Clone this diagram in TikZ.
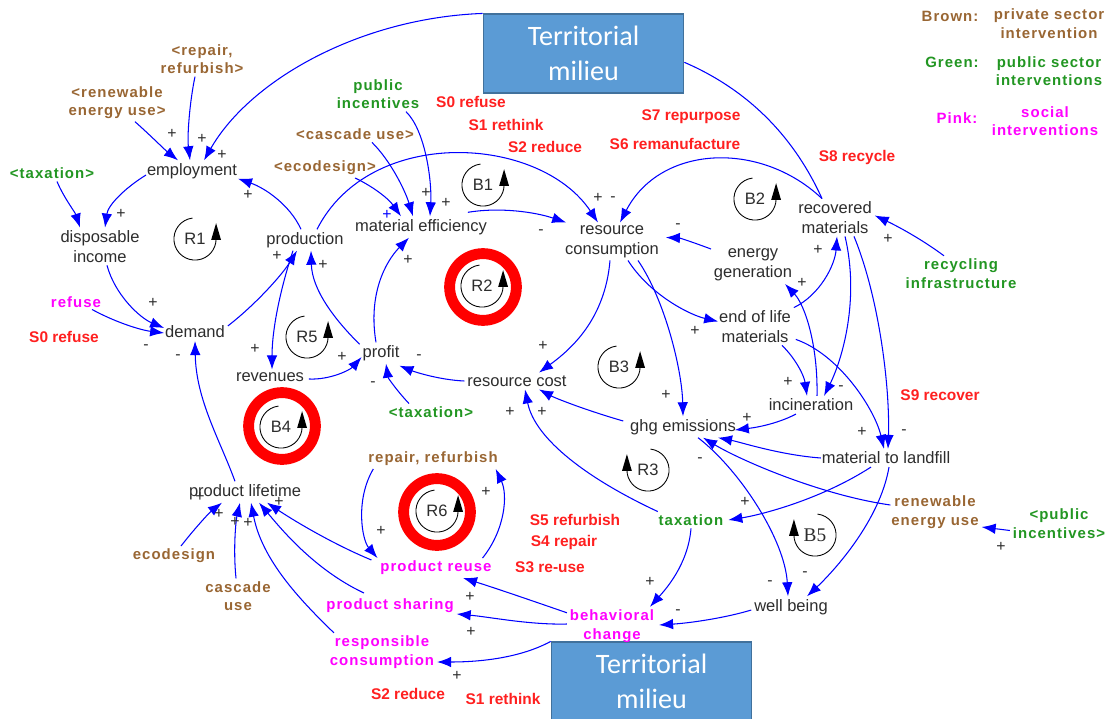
\documentclass[tikz,border=0pt]{standalone}
\usepackage{fontspec}
\setmainfont{Liberation Sans}
\newfontfamily\spacedfont[LetterSpace=7]{Liberation Sans}
\newfontfamily\boxfont{Carlito}
\newfontfamily\serifloop{Liberation Serif}
\usetikzlibrary{arrows.meta,calc}

\definecolor{linkblue}{RGB}{0,0,255}
\definecolor{privbrown}{RGB}{153,102,51}
\definecolor{pubgreen}{RGB}{34,150,34}
\definecolor{stratred}{RGB}{255,32,32}
\definecolor{socpink}{RGB}{255,0,255}
\definecolor{vartext}{RGB}{45,45,45}
\definecolor{boxfill}{RGB}{91,155,213}
\definecolor{boxedge}{RGB}{65,113,156}
\definecolor{ringred}{RGB}{255,0,0}

\begin{document}
\begin{tikzpicture}[x=0.02cm,y=-0.02cm,
  varnode/.style={font=\fontsize{9.4}{11.2}\selectfont,text=vartext,align=center,inner sep=1.5pt},
  colortext/.style={font=\spacedfont\bfseries\fontsize{8.5}{10.5}\selectfont,align=center,inner sep=1.5pt},
  priv/.style={colortext,text=privbrown},
  pub/.style={colortext,text=pubgreen},
  soc/.style={colortext,text=socpink},
  stratlabel/.style={font=\bfseries\fontsize{8.8}{10.5}\selectfont,text=stratred,inner sep=1pt},
  polarity/.style={font=\fontsize{9}{10}\selectfont,text=vartext,inner sep=0pt},
  arrowlink/.style={draw=linkblue,line width=0.6pt,-{Latex[length=8pt,width=6pt]}},
  plainlink/.style={draw=linkblue,line width=0.6pt},
  milieubox/.style={draw=boxedge,fill=boxfill,line width=0.8pt,minimum width=114pt,minimum height=44.8pt,
    text=white,font=\boxfont\fontsize{16}{20}\selectfont,align=center,inner sep=0pt},
  redring/.style={draw=ringred,line width=6.2pt,circle,minimum size=38pt,inner sep=0pt},
  looptext/.style={font=\fontsize{9.4}{11}\selectfont,text=vartext,inner sep=0pt},
  % loop marker: open circle turning anticlockwise, head on the right pointing up
  loopccw/.pic={\draw[line width=0.5pt,black] (97:12pt) arc[start angle=97,end angle=360,radius=12pt];
    \fill[black] (9.2pt,-0.5pt) -- (14.8pt,-0.5pt) -- (12pt,9pt) -- cycle;},
  % loop marker: open circle turning clockwise, head on the left pointing up
  loopcw/.pic={\draw[line width=0.5pt,black] (83:12pt) arc[start angle=83,end angle=-180,radius=12pt];
    \fill[black] (-9.2pt,-0.5pt) -- (-14.8pt,-0.5pt) -- (-12pt,9pt) -- cycle;},
]
\useasboundingbox[fill=white] (0,0) rectangle (1114,719);

% ---------- territorial milieu boxes ----------
\node[milieubox] (tmtop) at (583.5,53.5) {Territorial\\milieu};
\node[milieubox] (tmbot) at (651.5,681.5) {Territorial\\milieu};

% ---------- legend ----------
\node[priv] (legbrown) at (950,16) {Brown:};
\node[priv] (legbrowntxt) at (1049,23.5) {private sector\\intervention};
\node[pub] (leggreen) at (952,62) {Green:};
\node[pub] (leggreentxt) at (1049,71) {public sector\\interventions};
\node[soc] (legpink) at (957,118) {Pink:};
\node[soc] (legpinktxt) at (1045,121) {social\\interventions};

% ---------- variables ----------
\node[varnode] (emp) at (192,171) {employment};
\node[varnode] (inc) at (100,246.5) {disposable\\income};
\node[varnode] (prod) at (305,240) {production};
\node[varnode] (mateff) at (421,227) {material efficiency};
\node[varnode] (rescon) at (612,241.5) {resource\\consumption};
\node[varnode] (recmat) at (835,217.5) {recovered\\materials};
\node[varnode] (energy) at (753,265) {energy\\generation};
\node[varnode] (eol) at (755,326.5) {end of life\\materials};
\node[varnode] (demand) at (195,332) {demand};
\node[varnode] (revenues) at (270,377) {revenues};
\node[varnode] (profit) at (381,353) {profit};
\node[varnode] (rescost) at (517,381) {resource cost};
\node[varnode] (incin) at (811,405) {incineration};
\node[varnode] (ghg) at (683,427) {ghg emissions};
\node[varnode] (landfill) at (886,458) {material to landfill};
\node[varnode] (well) at (791,607) {well being};
\node[varnode] (life) at (245,492) {product lifetime};

% ---------- interventions ----------
\node[priv] (rr) at (202,59) {<repair,\\refurbish>};
\node[priv] (reu) at (117,102.5) {<renewable\\energy use>};
\node[pub] (taxL) at (52,173) {<taxation>};
\node[pub] (pubinc) at (378,94) {public\\incentives};
\node[priv] (casc) at (355,134) {<cascade use>};
\node[priv] (ecod) at (325,168) {<ecodesign>};
\node[pub] (recinf) at (961,273.5) {recycling\\infrastructure};
\node[soc] (refuse) at (76,302) {refuse};
\node[pub] (taxP) at (431,412) {<taxation>};
\node[pub] (tax) at (691,520) {taxation};
\node[priv] (renew) at (935,512) {renewable\\energy use};
\node[pub] (pubinc2) at (1059,523.5) {<public\\incentives>};
\node[priv] (repref) at (433,459) {repair, refurbish};
\node[priv] (ecod2) at (174,556) {ecodesign};
\node[priv] (casc2) at (238,596) {cascade\\use};
\node[soc] (reuse) at (436,568) {product reuse};
\node[soc] (sharing) at (390,606) {product sharing};
\node[soc] (behav) at (612,626) {behavioral\\change};
\node[soc] (respons) at (382,652) {responsible\\consumption};

% ---------- strategies ----------
\node[stratlabel] (s0a) at (471,102) {S0 refuse};
\node[stratlabel] (s1a) at (506,125) {S1 rethink};
\node[stratlabel] (s2a) at (545,147) {S2 reduce};
\node[stratlabel] (s7) at (691,117) {S7 repurpose};
\node[stratlabel] (s6) at (675,144) {S6 remanufacture};
\node[stratlabel] (s8) at (857,158) {S8 recycle};
\node[stratlabel] (s0b) at (64,337) {S0 refuse};
\node[stratlabel] (s9) at (940,395) {S9 recover};
\node[stratlabel] (s5) at (575,520) {S5 refurbish};
\node[stratlabel] (s4) at (564,542) {S4 repair};
\node[stratlabel] (s3) at (550,567) {S3 re-use};
\node[stratlabel] (s2b) at (408,694) {S2 reduce};
\node[stratlabel] (s1b) at (503,699) {S1 rethink};

% ---------- highlighted loops ----------
\node[redring] (ringR2) at (483,287) {};
\node[redring] (ringB4) at (282,426) {};
\node[redring] (ringR6) at (437,512) {};

% ---------- loop markers ----------
\node[looptext] (lR1) at (195,239) {R1};   \pic at (195,239) {loopccw};
\node[looptext] (lB1) at (483,185) {B1};   \pic at (483,185) {loopccw};
\node[looptext] (lB2) at (755,199) {B2};   \pic at (755,199) {loopccw};
\node[looptext] (lR2) at (482,286) {R2};   \pic at (482,286) {loopccw};
\node[looptext] (lR5) at (307,337) {R5};   \pic at (307,337) {loopccw};
\node[looptext] (lB3) at (619,367) {B3};   \pic at (619,367) {loopccw};
\node[looptext] (lB4) at (281,427) {B4};   \pic at (281,427) {loopccw};
\node[looptext] (lR6) at (437,511) {R6};   \pic at (437,511) {loopccw};
\node[looptext] (lR3) at (648,470) {R3};   \pic at (648,470) {loopcw};
\node[looptext,font=\serifloop\fontsize{11}{12}\selectfont] (lB5) at (815,535) {B5};
\pic at (815,535) {loopcw};

% ---------- causal links ----------
\draw[arrowlink] ($(rr.south)+(-7,0)$) .. controls (190,100) and (187,135) .. ($(emp.north)+(-2,0)$);
\draw[arrowlink] ($(reu.south)+(18,0)$) .. controls (150,135) and (165,150) .. ($(emp.north)+(-14,0)$);
\draw[arrowlink] (tmtop.north west) .. controls (360,18) and (250,80) .. ($(emp.north)+(12,0)$);
\draw[arrowlink] ($(taxL.south)+(5,0)$) .. controls (64,198) and (75,212) .. ($(inc.north)+(-20,0)$);
\draw[arrowlink] ($(emp.west)+(2,4)$) .. controls (125,188) and (108,205) .. ($(inc.north)+(5,0)$);
\draw[arrowlink] ($(prod.north)+(-4,0)$) .. controls (290,205) and (265,188) .. ($(emp.south east)+(-2,-3)$);
\draw[arrowlink] ($(inc.south)+(7,0)$) .. controls (115,295) and (140,318) .. ($(demand.west)+(2,-4)$);
\draw[arrowlink] ($(refuse.south)+(16,-1)$) .. controls (115,322) and (140,330) .. ($(demand.west)+(2,1)$);
\draw[arrowlink] ($(life.north)+(-10,0)$) .. controls (220,440) and (196,400) .. (demand.south);
\draw[arrowlink] ($(demand.north east)+(0,3)$) .. controls (255,305) and (282,275) .. ($(prod.south)+(-8,0)$);
\draw[arrowlink] ($(prod.south)+(-12,0)$) .. controls (280,290) and (272,330) .. ($(revenues.north)+(2,0)$);
\draw[arrowlink] ($(revenues.east)+(2,2)$) .. controls (330,380) and (350,370) .. ($(profit.west)+(2,4)$);
\draw[arrowlink] ($(profit.north west)+(0,2)$) .. controls (335,320) and (312,290) .. ($(prod.south)+(6,0)$);
\draw[arrowlink] ($(profit.north)+(-5,0)$) .. controls (368,295) and (385,262) .. ($(mateff.south)+(-12,0)$);
\draw[arrowlink] ($(prod.north)+(12,0)$) .. controls (370,125) and (540,135) .. ($(rescon.north)+(-14,0)$);
\draw[arrowlink] ($(mateff.north east)+(-22,-4)$) .. controls (500,207) and (535,212) .. ($(rescon.north west)+(4,0)$);
\draw[arrowlink] ($(ecod.south)+(30,0)$) .. controls (372,186) and (388,198) .. ($(mateff.north)+(-20,0)$);
\draw[arrowlink] ($(casc.south)+(17,0)$) .. controls (390,160) and (405,190) .. ($(mateff.north)+(-8,0)$);
\draw[arrowlink] ($(pubinc.south)+(28,0)$) .. controls (425,130) and (432,180) .. ($(mateff.north)+(9,0)$);
\draw[plainlink] (tmtop.-5) .. controls (760,95) and (800,150) .. ($(recmat.north)+(-13,0)$);
\draw[arrowlink] ($(recmat.north)+(-13,0)$) .. controls (760,140) and (660,145) .. ($(rescon.north)+(8,0)$);
\draw[arrowlink] ($(energy.north west)+(0,3)$) .. controls (695,243) and (680,238) .. ($(rescon.east)+(4,-4)$);
\draw[arrowlink] ($(rescon.south)+(16,0)$) .. controls (650,295) and (690,315) .. ($(eol.west)+(2,-5)$);
\draw[arrowlink] ($(rescon.south)+(-2,0)$) .. controls (605,320) and (570,350) .. ($(rescost.north)+(22,0)$);
\draw[arrowlink] ($(rescon.south)+(26,0)$) .. controls (665,300) and (682,370) .. (ghg.north);
\draw[arrowlink] ($(recinf.north)+(-17,0)$) .. controls (920,238) and (895,225) .. ($(recmat.east)+(0,-2)$);
\draw[arrowlink] (eol.north east) .. controls (820,295) and (835,265) .. ($(recmat.south)+(2,0)$);
\draw[arrowlink] ($(incin.north)+(6,0)$) .. controls (818,345) and (805,305) .. ($(energy.south)+(32,0)$);
\draw[arrowlink] ($(recmat.south)+(10,0)$) .. controls (860,300) and (842,360) .. ($(incin.north)+(13,0)$);
\draw[arrowlink] ($(eol.south)+(27,0)$) .. controls (795,358) and (804,375) .. ($(incin.north)+(-4,0)$);
\draw[arrowlink] ($(recmat.south)+(19,0)$) .. controls (880,300) and (890,390) .. ($(landfill.north)+(2,0)$);
\draw[arrowlink] ($(eol.south east)+(2,-6)$) .. controls (840,355) and (875,410) .. ($(landfill.north)+(-2,0)$);
\draw[arrowlink] ($(incin.south)+(-15,0)$) .. controls (775,425) and (752,428) .. ($(ghg.east)+(-4,3)$);
\draw[arrowlink] ($(landfill.west)+(2,0)$) .. controls (780,455) and (740,442) .. ($(ghg.south)+(35,0)$);
\draw[arrowlink] ($(ghg.west)+(-4,-6)$) .. controls (585,410) and (555,398) .. ($(rescost.south)+(22,0)$);
\draw[arrowlink] ($(tax.north west)+(2,0)$) .. controls (590,480) and (535,440) .. ($(rescost.south)+(8,0)$);
\draw[arrowlink] (rescost.west) .. controls (440,380) and (415,372) .. ($(profit.south east)+(-3,2)$);
\draw[arrowlink] ($(taxP.north)+(-22,0)$) .. controls (398,392) and (388,378) .. ($(profit.south)+(5,0)$);
\draw[arrowlink] ($(ghg.south)+(15,0)$) .. controls (740,470) and (785,540) .. ($(well.north)+(-3,0)$);
\draw[arrowlink] ($(landfill.south)+(3,0)$) .. controls (880,520) and (835,570) .. ($(well.north)+(16,0)$);
\draw[arrowlink] ($(landfill.south)+(-15,0)$) .. controls (820,500) and (760,515) .. ($(tax.east)+(2,0)$);
\draw[arrowlink] ($(renew.west)+(2,-7)$) .. controls (820,495) and (740,460) .. ($(ghg.south)+(20,0)$);
\draw[arrowlink] ($(pubinc2.west)+(0,7)$) -- ($(renew.east)+(0,15)$);
\draw[arrowlink] (tax.south) .. controls (688,565) and (665,590) .. ($(behav.north)+(38,0)$);
\draw[arrowlink] ($(well.west)+(0,3)$) .. controls (725,618) and (690,623) .. ($(behav.east)+(2,-1)$);
\draw[arrowlink] ($(behav.north west)+(0,6)$) .. controls (530,600) and (495,588) .. ($(reuse.south)+(27,0)$);
\draw[arrowlink] ($(behav.west)+(0,-2)$) .. controls (530,625) and (490,617) .. ($(sharing.south east)+(0,-2)$);
\draw[arrowlink] (tmbot.north west) .. controls (520,658) and (480,662) .. ($(respons.east)+(0,10)$);
\draw[arrowlink] ($(reuse.north east)+(-12,0)$) .. controls (505,530) and (508,495) .. ($(repref.south east)+(-5,0)$);
\draw[arrowlink] ($(repref.south west)+(8,0)$) .. controls (355,500) and (362,540) .. (reuse.north west);
\draw[arrowlink] ($(ecod2.north)+(7,0)$) .. controls (195,528) and (210,512) .. ($(life.south)+(-23,0)$);
\draw[arrowlink] ($(casc2.north)+(-2,0)$) .. controls (233,548) and (236,520) .. ($(life.south)+(-5,0)$);
\draw[arrowlink] ($(respons.north west)+(7,0)$) .. controls (300,600) and (262,560) .. ($(life.south)+(6,0)$);
\draw[arrowlink] ($(sharing.north)+(-26,-3)$) .. controls (315,570) and (282,530) .. ($(life.south)+(14,0)$);
\draw[arrowlink] ($(reuse.west)+(-6,-8)$) .. controls (335,545) and (296,522) .. ($(life.south)+(22,0)$);

% ---------- link polarities ----------
\foreach \sx/\sy [count=\k] in {172/134,202/139,222/155,121/214,248/195,153/303,277/256,255/349,
  342/357,323/265,408/260,426/193,446/203,598/198,695/331,543/346,666/395,888/239,818/250,
  802/283,788/382,862/432,747/418,745/502,510/412,542/412,650/582,470/597,471/632,457/676,
  486/492,381/531,1001/547,219/514,235/522,248/523,279/502,200/497}
  \node[polarity] (pos\k) at (\sx,\sy) {+};
\foreach \sx/\sy [count=\k] in {146/347,178/357,613/199,541/232,678/226,841/388,904/432,
  700/460,419/357,373/384,678/612,770/583,805/574}
  \node[polarity] (neg\k) at (\sx,\sy) {-};
\node[polarity,text=linkblue] (bluepos) at (387,215) {+};

\end{tikzpicture}
\end{document}
